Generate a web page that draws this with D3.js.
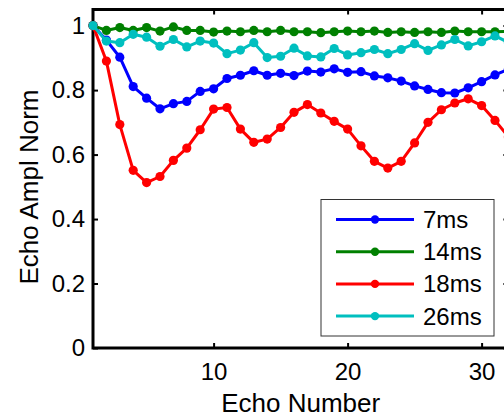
<!DOCTYPE html>
<html>
<head>
<meta charset="utf-8">
<script src="https://cdn.jsdelivr.net/npm/d3@7/dist/d3.min.js"></script>
<style>
  html, body { margin: 0; padding: 0; background: #fff; overflow: hidden; }
  svg { display: block; font-family: "Liberation Sans", Arial, sans-serif; }
</style>
</head>
<body>
<svg id="chart" width="504" height="420"></svg>
<script>
// Echo index along the train
const echoNumber = [1, 2, 3, 4, 5, 6, 7, 8, 9, 10, 11, 12, 13, 14, 15, 16,
                    17, 18, 19, 20, 21, 22, 23, 24, 25, 26, 27, 28, 29, 30, 31, 32];

// Normalised echo amplitude for each echo spacing
const ampl7ms = [1.000, 0.955, 0.902, 0.811, 0.775, 0.742, 0.758, 0.765, 0.796, 0.804,
                 0.836, 0.846, 0.860, 0.846, 0.852, 0.845, 0.859, 0.856, 0.866, 0.855,
                 0.857, 0.844, 0.838, 0.828, 0.813, 0.802, 0.792, 0.791, 0.807, 0.826,
                 0.847, 0.865];
const ampl14ms = [1.000, 0.985, 0.994, 0.985, 0.994, 0.983, 0.996, 0.985, 0.985, 0.980,
                  0.983, 0.981, 0.985, 0.981, 0.985, 0.981, 0.981, 0.978, 0.981, 0.983,
                  0.981, 0.983, 0.979, 0.981, 0.979, 0.981, 0.979, 0.983, 0.981, 0.981,
                  0.981, 0.982];
const ampl18ms = [1.000, 0.890, 0.693, 0.551, 0.513, 0.532, 0.582, 0.620, 0.677, 0.741,
                  0.746, 0.679, 0.638, 0.648, 0.684, 0.731, 0.755, 0.729, 0.703, 0.679,
                  0.627, 0.579, 0.558, 0.579, 0.636, 0.700, 0.739, 0.760, 0.773, 0.752,
                  0.706, 0.655];
const ampl26ms = [1.000, 0.952, 0.947, 0.973, 0.964, 0.936, 0.957, 0.934, 0.952, 0.946,
                  0.913, 0.924, 0.947, 0.901, 0.905, 0.930, 0.906, 0.903, 0.929, 0.909,
                  0.916, 0.926, 0.913, 0.926, 0.944, 0.923, 0.940, 0.957, 0.937, 0.950,
                  0.968, 0.948];

const seriesNames = ["7ms", "14ms", "18ms", "26ms"];
const seriesColors = ["#0000ff", "#008000", "#ff0000", "#00bfbf"];
const seriesValues = [ampl7ms, ampl14ms, ampl18ms, ampl26ms];

const xTicks = [10, 20, 30];
const yTicks = [0, 0.2, 0.4, 0.6, 0.8, 1];

const svg = d3.select("#chart");

const plotLeft = 93, plotRight = 508.4, plotTop = 9.5, plotBottom = 348;
const x = d3.scaleLinear().domain([1, 32]).range([plotLeft, plotRight]);
const y = d3.scaleLinear().domain([0, 1.05]).range([plotBottom, plotTop]);

const fmt = d3.format("~g");

// Axes with inward ticks on all four sides
const gx = svg.append("g").attr("transform", `translate(0,${plotBottom})`)
  .call(d3.axisBottom(x).tickValues(xTicks).tickSizeInner(-5).tickSizeOuter(0).tickPadding(15));
const gxTop = svg.append("g").attr("transform", `translate(0,${plotTop})`)
  .call(d3.axisTop(x).tickValues(xTicks).tickSizeInner(-5).tickSizeOuter(0).tickFormat(""));
const gy = svg.append("g").attr("transform", `translate(${plotLeft},0)`)
  .call(d3.axisLeft(y).tickValues(yTicks).tickSizeInner(-5).tickSizeOuter(0).tickPadding(8).tickFormat(fmt));
const gyRight = svg.append("g").attr("transform", `translate(${plotRight},0)`)
  .call(d3.axisRight(y).tickValues(yTicks).tickSizeInner(-5).tickSizeOuter(0).tickFormat(""));

[gx, gxTop, gy, gyRight].forEach(g => {
  g.select(".domain").remove();
  g.selectAll(".tick line").attr("stroke", "#000").attr("stroke-width", 2);
  g.selectAll(".tick text").attr("fill", "#000").attr("font-size", 24)
    .attr("font-family", "'Liberation Sans', Arial, sans-serif");
});

// Axis box
svg.append("rect")
  .attr("x", plotLeft).attr("y", plotTop)
  .attr("width", plotRight - plotLeft).attr("height", plotBottom - plotTop)
  .attr("fill", "none").attr("stroke", "#000").attr("stroke-width", 3);

// Series lines and markers
const line = d3.line()
  .x((d, i) => x(echoNumber[i]))
  .y(d => y(d));

seriesValues.forEach((vals, s) => {
  const g = svg.append("g");
  g.append("path")
    .datum(vals)
    .attr("d", line)
    .attr("fill", "none")
    .attr("stroke", seriesColors[s])
    .attr("stroke-width", 3)
    .attr("stroke-linejoin", "round");
  g.selectAll("circle")
    .data(vals)
    .join("circle")
    .attr("cx", (d, i) => x(echoNumber[i]))
    .attr("cy", d => y(d))
    .attr("r", 4.6)
    .attr("fill", seriesColors[s]);
});

// Axis labels
svg.append("text")
  .attr("x", (plotLeft + plotRight) / 2).attr("y", 411.5)
  .attr("text-anchor", "middle").attr("font-size", 26)
  .text("Echo Number");

svg.append("text")
  .attr("transform", "translate(38,187) rotate(-90)")
  .attr("text-anchor", "middle").attr("font-size", 26)
  .text("Echo Ampl Norm");

// Legend
const lg = svg.append("g");
lg.append("rect")
  .attr("x", 321).attr("y", 199.5).attr("width", 173).attr("height", 136.5)
  .attr("fill", "#fff").attr("stroke", "#333").attr("stroke-width", 1);

seriesNames.forEach((name, s) => {
  const ly = 219.5 + s * 32.2;
  lg.append("line")
    .attr("x1", 336).attr("x2", 414).attr("y1", ly).attr("y2", ly)
    .attr("stroke", seriesColors[s]).attr("stroke-width", 3);
  lg.append("circle")
    .attr("cx", 375).attr("cy", ly).attr("r", 4.2)
    .attr("fill", seriesColors[s]);
  lg.append("text")
    .attr("x", 423).attr("y", ly).attr("dy", "0.35em")
    .attr("font-size", 24)
    .text(name);
});
</script>
</body>
</html>
